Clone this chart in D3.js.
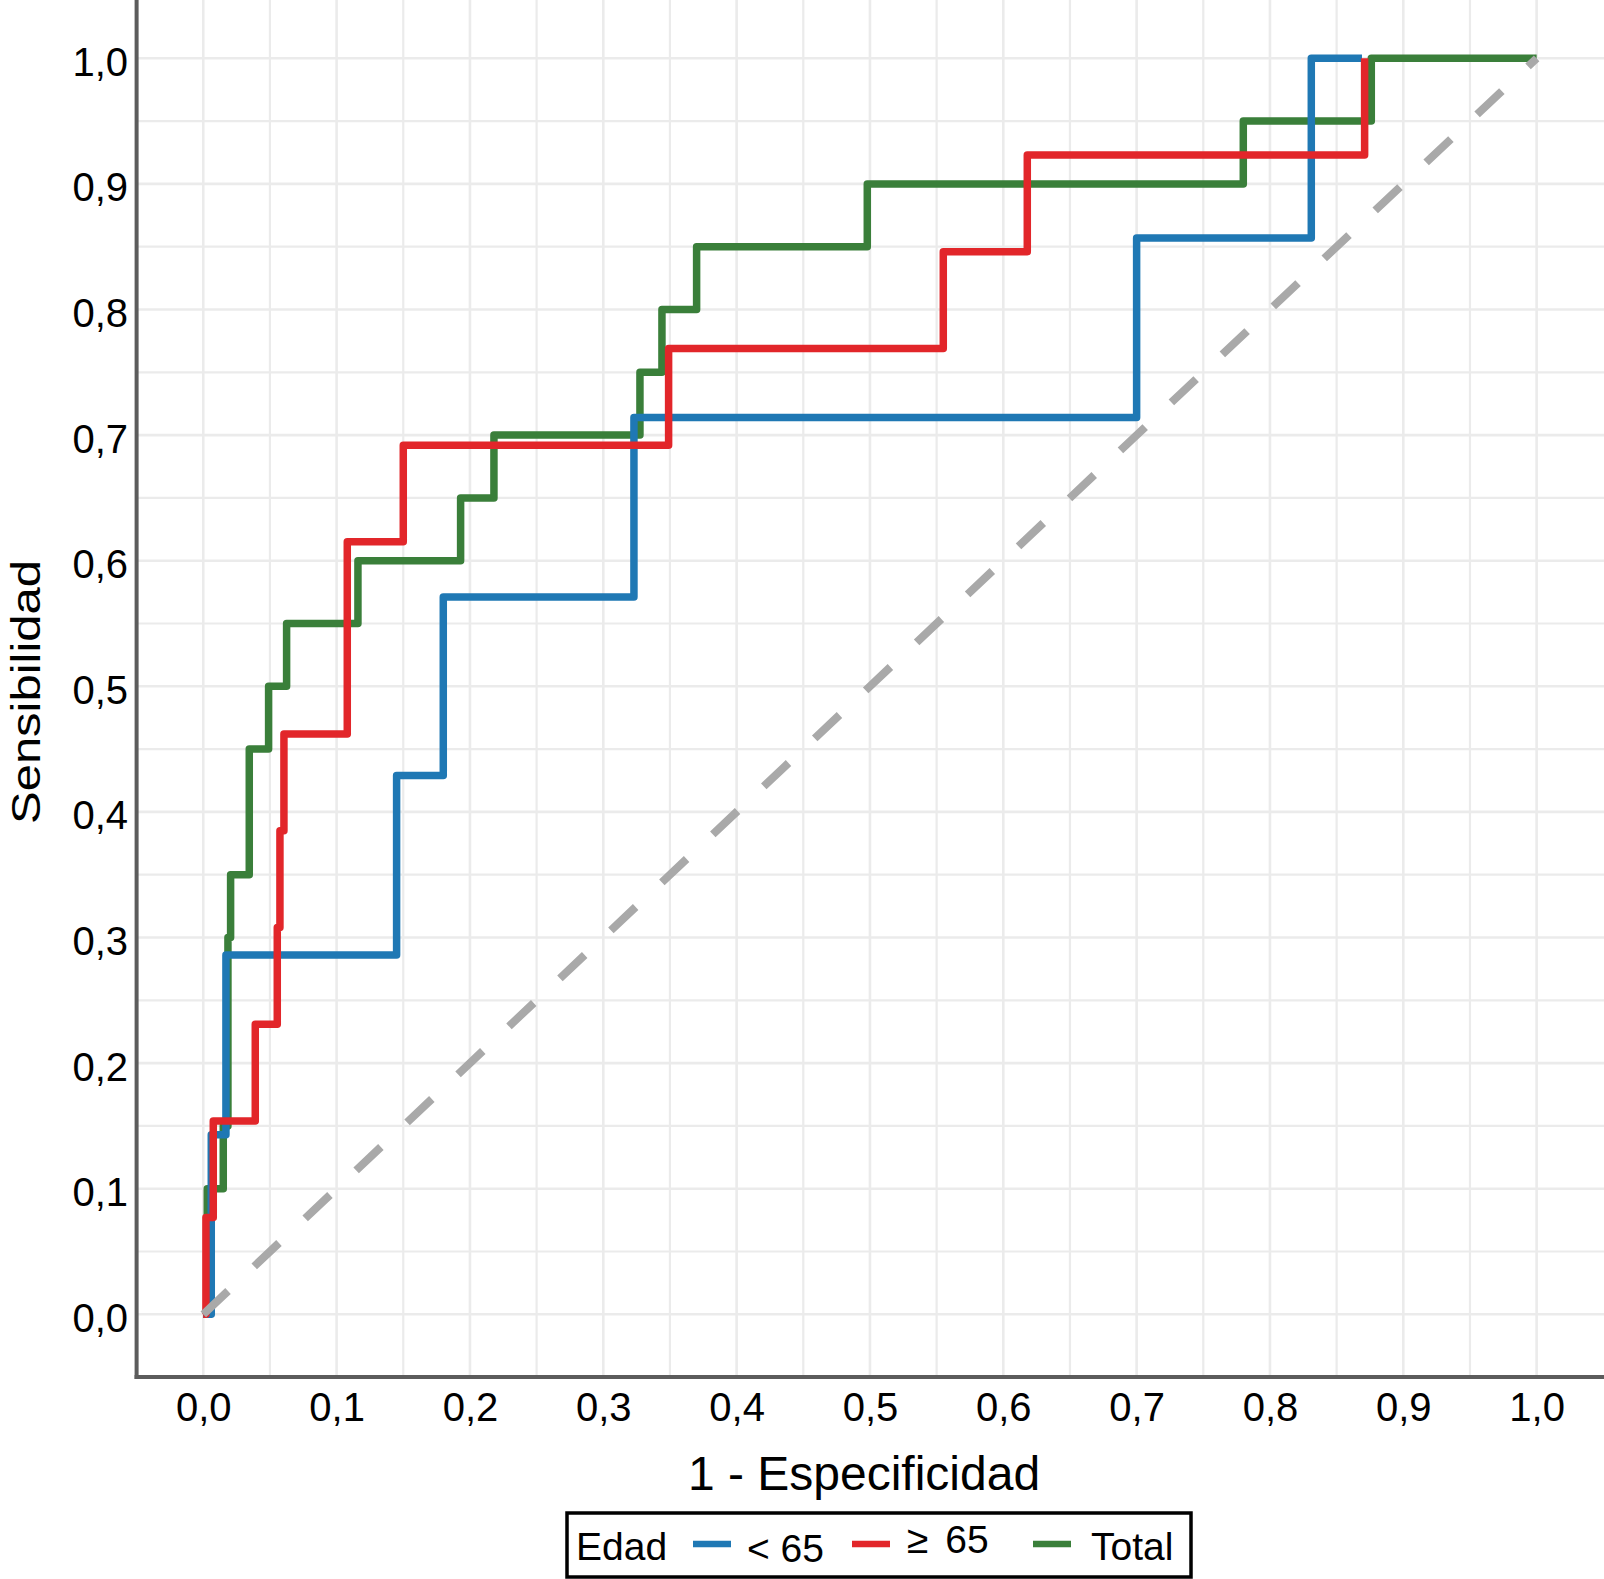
<!DOCTYPE html>
<html>
<head>
<meta charset="utf-8">
<script src="https://cdn.jsdelivr.net/npm/d3@7"></script>
<style>
  html, body { margin: 0; padding: 0; background: #fff; }
  svg { display: block; }
  text { font-family: "Liberation Sans", Arial, Helvetica, sans-serif; fill: #000; }
</style>
</head>
<body>
<svg id="chart" width="1604" height="1579"></svg>
<script>
// ---------- data ----------
const seriesNames  = ["< 65", "\u2265 65", "Total"];
const seriesColors = ["#1f78b4", "#e2262a", "#3a7f3a"];

// ROC corner points: x = 1 - especificidad, y = sensibilidad
const fprMenor65 = [0, 0.006, 0.017, 0.145, 0.180, 0.323, 0.700, 0.831, 0.869];
const tprMenor65 = [0, 0.143, 0.286, 0.429, 0.571, 0.714, 0.857, 1.000, 1.0];

const fprMayor65 = [0, 0.002, 0.0075, 0.039, 0.0555, 0.0575, 0.0605, 0.108, 0.150, 0.349, 0.555, 0.618, 0.871];
const tprMayor65 = [0, 0.077, 0.154, 0.231, 0.308, 0.385, 0.462, 0.615, 0.692, 0.769, 0.846, 0.923, 1.000];

const fprTotal = [0, 0.0030, 0.015, 0.0185, 0.0205, 0.0345, 0.049, 0.0625, 0.116, 0.193, 0.218, 0.3275, 0.344, 0.370, 0.498, 0.780, 0.876, 1.0];
const tprTotal = [0, 0.10, 0.15, 0.30, 0.35, 0.45, 0.50, 0.55, 0.60, 0.65, 0.70, 0.75, 0.80, 0.85, 0.90, 0.95, 1.00, 1.0];

const xTicks = [0, 0.1, 0.2, 0.3, 0.4, 0.5, 0.6, 0.7, 0.8, 0.9, 1.0];
const yTicks = [0, 0.1, 0.2, 0.3, 0.4, 0.5, 0.6, 0.7, 0.8, 0.9, 1.0];
const gridSteps = d3.range(0, 1.0001, 0.05);

const xTitle = "1 - Especificidad";
const yTitle = "Sensibilidad";
const legendTitle = "Edad";

// ---------- layout ----------
const svg = d3.select("#chart");
const W = 1604, H = 1579;
const x = d3.scaleLinear().domain([-0.05, 1.05]).range([136.6, 1603.3]);
const y = d3.scaleLinear().domain([-0.05, 1.05]).range([1377.1, -4.5]);
const left = x(-0.05), bottom = y(-0.05);

const locale = d3.formatLocale({decimal: ",", thousands: ".", grouping: [3], currency: ["", "\u20ac"]});
const fmt = locale.format(".1f");

// grid
const grid = svg.append("g");
grid.selectAll("line.v").data(gridSteps).join("line")
  .attr("x1", d => x(d)).attr("x2", d => x(d))
  .attr("y1", 0).attr("y2", bottom)
  .attr("stroke", "#ebebeb").attr("stroke-width", (d, i) => i % 2 === 0 ? 2.6 : 2.2);
grid.selectAll("line.h").data(gridSteps).join("line")
  .attr("x1", left).attr("x2", W)
  .attr("y1", d => y(d)).attr("y2", d => y(d))
  .attr("stroke", "#ebebeb").attr("stroke-width", (d, i) => i % 2 === 0 ? 2.6 : 2.2);

// curves
const series = [
  {name: seriesNames[0], color: seriesColors[0], fpr: fprMenor65, tpr: tprMenor65},
  {name: seriesNames[1], color: seriesColors[1], fpr: fprMayor65, tpr: tprMayor65},
  {name: seriesNames[2], color: seriesColors[2], fpr: fprTotal,   tpr: tprTotal}
];
const stepLine = d3.line().x(d => x(d[0])).y(d => y(d[1])).curve(d3.curveStepAfter);
const drawOrder = [2, 0, 1]; // Total, < 65, >= 65 (as layered in reference)
svg.append("g").selectAll("path").data(drawOrder.map(i => series[i])).join("path")
  .attr("d", s => stepLine(s.fpr.map((f, i) => [f, s.tpr[i]])))
  .attr("fill", "none")
  .attr("stroke", s => s.color)
  .attr("stroke-width", 7.5)
  .attr("stroke-linejoin", "round")
  .attr("stroke-linecap", "butt");

// diagonal reference
svg.append("path")
  .attr("d", d3.line().x(d => x(d[0])).y(d => y(d[1]))([[0, 0], [1, 1]]))
  .attr("fill", "none").attr("stroke", "#a9a9a9").attr("stroke-width", 8)
  .attr("stroke-dasharray", "34,36").attr("stroke-linecap", "butt");

// axes
const xAxis = svg.append("g").attr("transform", `translate(0,${bottom})`)
  .call(d3.axisBottom(x).tickValues(xTicks).tickFormat(fmt).tickSize(0).tickSizeOuter(0));
xAxis.select(".domain").attr("stroke", "#5c5c5c").attr("stroke-width", 4)
  .attr("d", `M${left - 2},0H${W}`);
xAxis.selectAll("text").attr("y", 44).attr("dy", null)
  .style("font-size", "40px").style("font-family", '"Liberation Sans", Arial, sans-serif').attr("fill", "#000");

const yAxis = svg.append("g").attr("transform", `translate(${left},0)`)
  .call(d3.axisLeft(y).tickValues(yTicks).tickFormat(fmt).tickSize(0).tickSizeOuter(0));
yAxis.select(".domain").attr("stroke", "#5c5c5c").attr("stroke-width", 4)
  .attr("d", `M0,0V${bottom + 2}`);
yAxis.selectAll("text").attr("x", -8.5).attr("y", 17).attr("dy", null)
  .style("font-size", "40px").style("font-family", '"Liberation Sans", Arial, sans-serif').attr("fill", "#000");

// axis titles
svg.append("text").attr("x", 864).attr("y", 1490).attr("text-anchor", "middle")
  .style("font-size", "48px").text(xTitle);
svg.append("text").attr("transform", "translate(40,692) rotate(-90)").attr("text-anchor", "middle")
  .attr("textLength", 264).attr("lengthAdjust", "spacingAndGlyphs")
  .style("font-size", "41px").text(yTitle);

// legend
const lg = svg.append("g");
lg.append("rect").attr("x", 567).attr("y", 1513).attr("width", 624).attr("height", 64)
  .attr("fill", "#fff").attr("stroke", "#000").attr("stroke-width", 3.5);
lg.append("text").attr("x", 576).attr("y", 1560).style("font-size", "39px").text(legendTitle);
const keyX = [693, 852, 1033];
const labelX = [747, 907, 1091];
const labelY = [1562, 1553, 1560];
series.forEach((s, i) => {
  lg.append("line").attr("x1", keyX[i]).attr("x2", keyX[i] + 38)
    .attr("y1", 1544).attr("y2", 1544)
    .attr("stroke", s.color).attr("stroke-width", 6.5);
  lg.append("text").attr("x", labelX[i]).attr("y", labelY[i])
    .attr("word-spacing", i === 1 ? 6 : 0)
    .style("font-size", "39px").text(s.name);
});
</script>
</body>
</html>
